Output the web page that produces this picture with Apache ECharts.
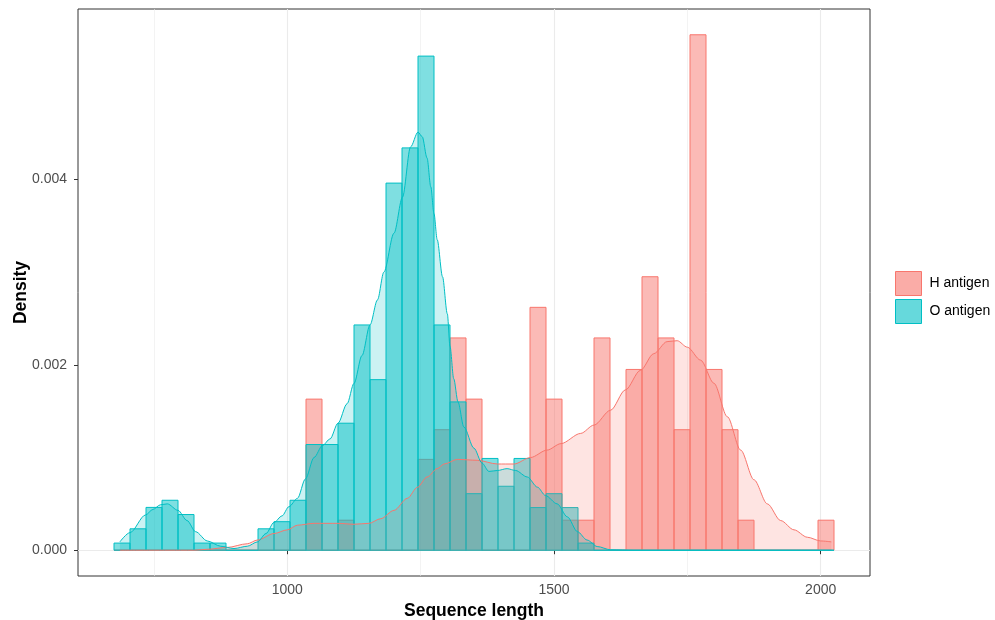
<!DOCTYPE html>
<html>
<head>
<meta charset="utf-8">
<script src="https://cdn.jsdelivr.net/npm/echarts@6/dist/echarts.min.js"></script>
<style>
html,body{margin:0;padding:0;background:#fff;}
#chart{width:995px;height:620px;}
</style>
</head>
<body>
<div id="chart"></div>
<script>
// ---- data ----
const binWidth = 30;
const binCenters = [690,720,750,780,810,840,870,900,930,960,990,1020,1050,1080,1110,1140,1170,1200,1230,1260,1290,1320,1350,1380,1410,1440,1470,1500,1530,1560,1590,1620,1650,1680,1710,1740,1770,1800,1830,1860,1890,1920,1950,1980,2010];
const hAntigenHist = [0,0,0,0,0,0,0,0,0,0,0,0,0.00163,0,0.000324,0,0,0,0,0.00098,0.0013,0.00229,0.00163,0,0,0,0.00262,0.00163,0.000324,0.000324,0.00229,0,0.00195,0.00295,0.00229,0.0013,0.00556,0.00195,0.0013,0.000324,0,0,0,0,0.000324];
const oAntigenHist = [0.000077,0.000231,0.000462,0.000539,0.000385,0.000077,0.000077,0,0,0.000231,0.000308,0.000539,0.00114,0.00114,0.00137,0.00243,0.00184,0.00396,0.00434,0.00533,0.00243,0.0016,0.00061,0.00099,0.00069,0.00099,0.00046,0.00061,0.00046,0.000077,0,0,0,0,0,0,0,0,0,0,0,0,0,0,0];

const hDensityX = [686,720,760,800,825,850,887,925,944,975,1000,1019,1050,1095,1125,1153,1175,1200,1225,1244,1262,1281,1294,1319,1356,1394,1425,1456,1487,1513,1550,1575,1606,1634,1662,1687,1712,1731,1750,1775,1800,1825,1850,1875,1900,1925,1950,1975,2000,2020];
const hDensityY = [0,0,0,0,0,0.00001,0.00003,0.00007,0.00011,0.00018,0.00022,0.00027,0.00029,0.00029,0.00028,0.00029,0.00034,0.00043,0.00056,0.00068,0.00079,0.00088,0.00093,0.00098,0.00097,0.00093,0.00093,0.001,0.00108,0.00115,0.00126,0.00135,0.00151,0.00173,0.00194,0.00212,0.00225,0.00226,0.00219,0.00205,0.0018,0.00144,0.00108,0.00076,0.0005,0.00032,0.00022,0.00014,0.0001,0.00009];
const oDensityX = [686,705,734,748,762,775,795,812,828,850,875,900,925,944,960,975,990,1003,1019,1034,1050,1066,1080,1095,1112,1125,1140,1155,1169,1181,1200,1216,1231,1245,1253,1262,1269,1275,1281,1291,1300,1305,1312,1320,1331,1350,1365,1378,1394,1412,1428,1450,1469,1484,1506,1525,1544,1562,1581,1606,1650,1750,1850,1950,2020];
const oDensityY = [0.00009,0.00019,0.00038,0.00044,0.00049,0.0005,0.00043,0.00032,0.0002,0.0001,0.000043,0.000018,0.000043,0.00009,0.00018,0.0003,0.00037,0.00047,0.00056,0.00077,0.001,0.00113,0.0012,0.00137,0.00158,0.0018,0.0021,0.00243,0.0027,0.003,0.00342,0.00381,0.00435,0.00451,0.00446,0.00423,0.00392,0.00363,0.00335,0.00295,0.00255,0.0022,0.00185,0.0016,0.00133,0.0011,0.00094,0.00085,0.00086,0.00088,0.00086,0.00079,0.00068,0.00059,0.0005,0.00036,0.0002,0.00011,0.00004,0.000005,0,0,0,0,0];

const xTicks = [1000,1500,2000];
const xMinorGrid = [750,1250,1750];
const yTicks = [0,0.002,0.004];
const yMinorGrid = [0.001,0.003,0.005];

const FONT = "'Liberation Sans', Arial, sans-serif";
const RED = '#F8766D', TEAL = '#00BFC4';

function barRenderer(fill, stroke) {
  return function (params, api) {
    const x = api.value(0), y = api.value(1);
    const p0 = api.coord([x - binWidth / 2, 0]);
    const p1 = api.coord([x + binWidth / 2, y]);
    return {
      type: 'rect',
      shape: { x: p0[0], y: p1[1], width: p1[0] - p0[0], height: p0[1] - p1[1] },
      style: { fill: fill, stroke: stroke, lineWidth: 1 }
    };
  };
}

const gridLines = [];
xTicks.forEach(v => gridLines.push({ xAxis: v, lineStyle: { width: 1.1 } }));
xMinorGrid.forEach(v => gridLines.push({ xAxis: v, lineStyle: { width: 0.6 } }));
yTicks.forEach(v => gridLines.push({ yAxis: v, lineStyle: { width: 1.1 } }));
yMinorGrid.forEach(v => gridLines.push({ yAxis: v, lineStyle: { width: 0.6 } }));

const chart = echarts.init(document.getElementById('chart'), null, { renderer: 'canvas' });
chart.setOption({
  animation: false,
  backgroundColor: '#ffffff',
  textStyle: { fontFamily: FONT },
  grid: { left: 78, top: 9, width: 792, height: 567, show: true, borderColor: '#333333', borderWidth: 1, backgroundColor: 'transparent', containLabel: false, outerBoundsMode: 'none' },
  legend: {
    orient: 'vertical', left: 895, top: 271, padding: 0, itemWidth: 26, itemHeight: 24, itemGap: 3, icon: 'rect',
    textStyle: { fontSize: 14, color: '#000', fontFamily: FONT, padding: [0, 0, 0, 3] },
    data: [
      { name: 'H antigen', itemStyle: { color: '#FAACA7', borderColor: RED, borderWidth: 1 } },
      { name: 'O antigen', itemStyle: { color: '#66D9DC', borderColor: TEAL, borderWidth: 1 } }
    ]
  },
  xAxis: {
    type: 'value', min: 607.5, max: 2092.5,
    name: 'Sequence length', nameLocation: 'middle', nameGap: 26, nameMoveOverlap: false,
    nameTextStyle: { fontSize: 17.5, fontWeight: 'bold', color: '#000', fontFamily: FONT },
    axisLine: { show: false },
    axisTick: { show: true, length: 4, lineStyle: { color: '#333333', width: 1 }, customValues: xTicks },
    axisLabel: { fontSize: 14, color: '#4D4D4D', margin: 7, fontFamily: FONT, customValues: xTicks, formatter: v => String(v) },
    splitLine: { show: false }
  },
  yAxis: {
    type: 'value', min: -0.000278, max: 0.005838,
    name: 'Density', nameLocation: 'middle', nameGap: 48, nameMoveOverlap: false,
    nameTextStyle: { fontSize: 17.5, fontWeight: 'bold', color: '#000', fontFamily: FONT },
    axisLine: { show: false },
    axisTick: { show: true, length: 4, lineStyle: { color: '#333333', width: 1 }, customValues: yTicks },
    axisLabel: { fontSize: 14, color: '#4D4D4D', margin: 11, fontFamily: FONT, customValues: yTicks, formatter: v => v.toFixed(3) },
    splitLine: { show: false }
  },
  series: [
    {
      name: 'gridlines', type: 'line', data: [], silent: true, z: 0,
      markLine: { silent: true, symbol: ['none', 'none'], z: 0, label: { show: false }, animation: false,
        lineStyle: { color: '#EBEBEB', type: 'solid' }, emphasis: { disabled: true }, data: gridLines }
    },
    {
      name: 'H antigen', type: 'custom', z: 2, clip: true,
      renderItem: barRenderer('rgba(248,118,109,0.5)', RED),
      encode: { x: 0, y: 1 },
      data: binCenters.map((c, i) => [c, hAntigenHist[i]])
    },
    {
      name: 'O antigen', type: 'custom', z: 2, clip: true,
      renderItem: barRenderer('rgba(0,191,196,0.5)', TEAL),
      encode: { x: 0, y: 1 },
      data: binCenters.map((c, i) => [c, oAntigenHist[i]])
    },
    {
      name: 'H density', type: 'line', z: 3, smooth: 0.3, smoothMonotone: 'x', showSymbol: false, symbol: 'none',
      lineStyle: { color: RED, width: 1 }, itemStyle: { color: RED },
      areaStyle: { color: RED, opacity: 0.2 },
      data: hDensityX.map((x, i) => [x, hDensityY[i]])
    },
    {
      name: 'O density', type: 'line', z: 3, smooth: 0.3, smoothMonotone: 'x', showSymbol: false, symbol: 'none',
      lineStyle: { color: TEAL, width: 1 }, itemStyle: { color: TEAL },
      areaStyle: { color: TEAL, opacity: 0.2 },
      data: oDensityX.map((x, i) => [x, oDensityY[i]])
    }
  ]
});
</script>
</body>
</html>
